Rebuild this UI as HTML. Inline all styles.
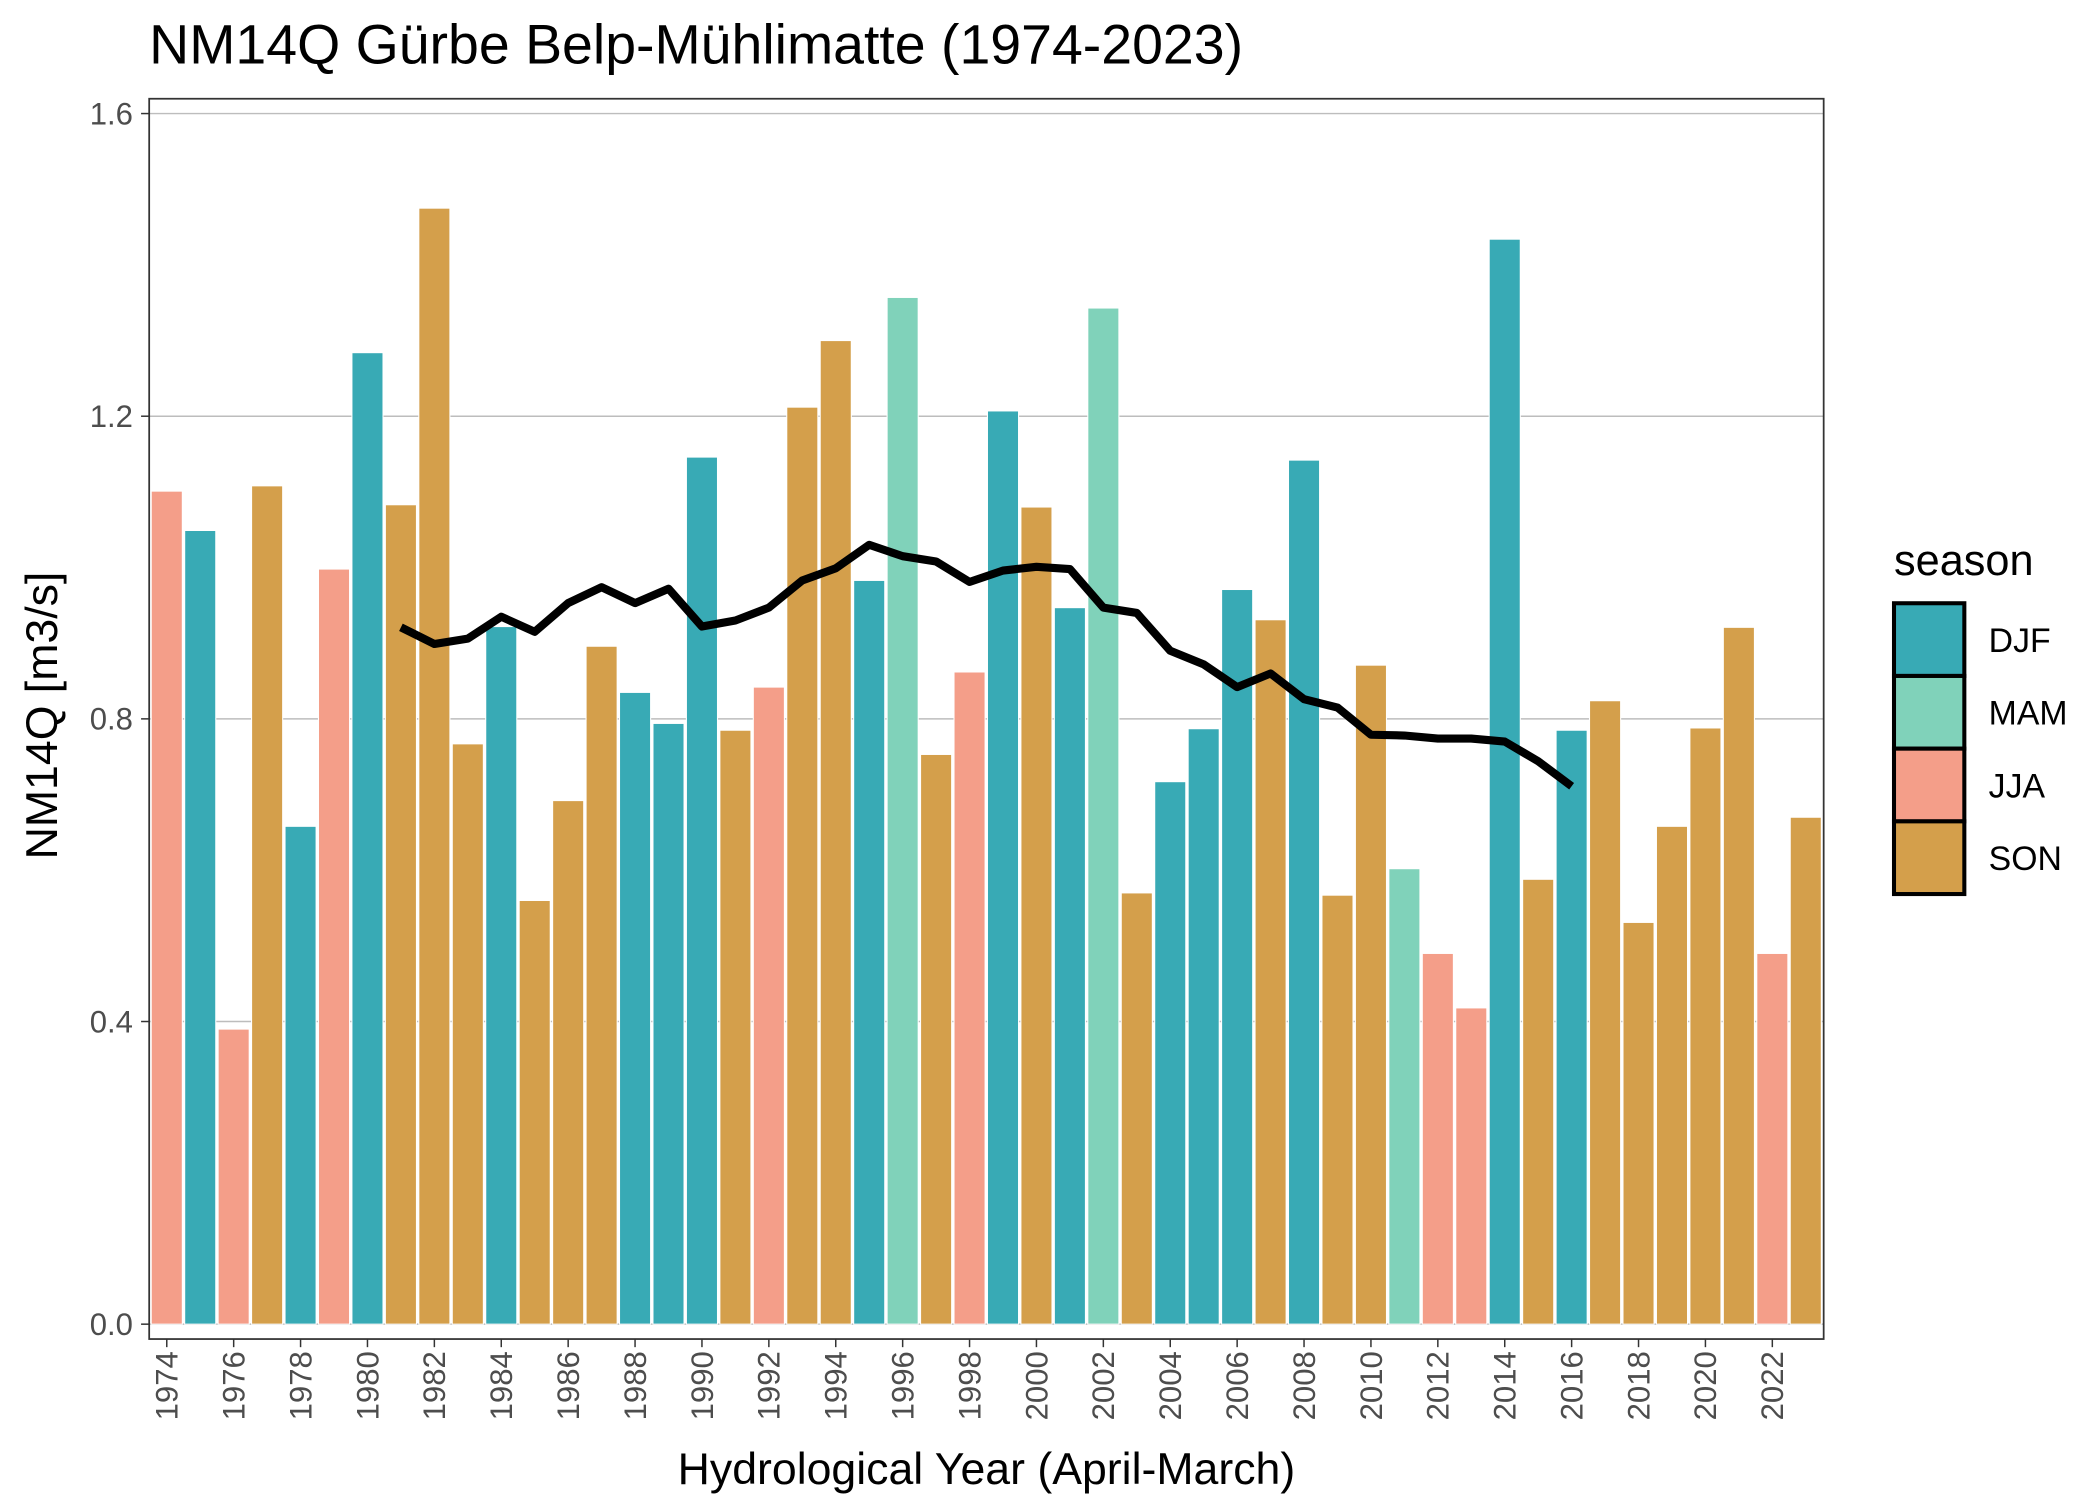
<!DOCTYPE html>
<html><head><meta charset="utf-8"><style>body{margin:0;background:#fff}svg{display:block}text{font-family:"Liberation Sans",sans-serif}</style></head>
<body>
<svg id="chart" width="2100" height="1500" viewBox="0 0 1552 1109" xmlns="http://www.w3.org/2000/svg">
<rect width="1552" height="1109" fill="#fff"/>
<text x="110" y="47" font-size="41" fill="#000">NM14Q Gürbe Belp-Mühlimatte (1974-2023)</text>
<g id="grid"></g><g id="bars"></g><g id="line"></g>
<rect x="110" y="73" width="1238" height="917" fill="none" stroke="#333" stroke-width="1.3"/>
<g id="axes"></g>
<text x="729" y="1097" font-size="33" text-anchor="middle">Hydrological Year (April-March)</text>
<text transform="translate(42,529) rotate(-90)" font-size="33" text-anchor="middle">NM14Q [m3/s]</text>
<g id="legend"></g>
</svg>
<script>
const years=[];for(let y=1974;y<=2023;y++)years.push(y);
const values=[1.101,1.049,0.39,1.108,0.658,0.998,1.284,1.083,1.475,0.767,0.922,0.56,0.692,0.896,0.835,0.794,1.146,0.785,0.842,1.212,1.30,0.983,1.357,0.753,0.862,1.207,1.08,0.947,1.343,0.57,0.717,0.787,0.971,0.931,1.142,0.567,0.871,0.602,0.49,0.418,1.434,0.588,0.785,0.824,0.531,0.658,0.788,0.921,0.49,0.67];
const seasons=["JJA","DJF","JJA","SON","DJF","JJA","DJF","SON","SON","SON","DJF","SON","SON","SON","DJF","DJF","DJF","SON","JJA","SON","SON","DJF","MAM","SON","JJA","DJF","SON","DJF","MAM","SON","DJF","DJF","DJF","SON","DJF","SON","SON","MAM","JJA","JJA","DJF","SON","DJF","SON","SON","SON","SON","SON","JJA","SON"];
const maYears=[];for(let y=1981;y<=2016;y++)maYears.push(y);
const maValues=[0.921,0.899,0.906,0.935,0.915,0.953,0.974,0.953,0.972,0.922,0.93,0.947,0.983,0.999,1.03,1.015,1.008,0.981,0.996,1.001,0.998,0.947,0.94,0.89,0.872,0.842,0.86,0.826,0.815,0.779,0.778,0.774,0.774,0.77,0.744,0.711];
const yTicks=[0,0.4,0.8,1.2,1.6];const yTickLabels=["0.0","0.4","0.8","1.2","1.6"];
const legendKeys=["DJF","MAM","JJA","SON"];
const colors={DJF:"#38AAB5",MAM:"#80D2BA",JJA:"#F49E89",SON:"#D49F4B"};
const NS="http://www.w3.org/2000/svg";
const X=y=>123+(y-1974)*24.73;const Y=v=>979-v*559.4;
function mk(t,a,p){const e=document.createElementNS(NS,t);for(const k in a)e.setAttribute(k,a[k]);document.getElementById(p).appendChild(e);return e;}
yTicks.forEach((v,i)=>{
 const g=mk("line",{x1:110,x2:1348,y1:Y(v),y2:Y(v),stroke:"#bdbdbd","stroke-width":1.1},"grid");
 
 
 const t=mk("line",{x1:104,x2:110,y1:Y(v),y2:Y(v),stroke:"#333","stroke-width":1.1},"axes");
 
 
 const l=mk("text",{x:98,y:Y(v)+8,"font-size":23,"text-anchor":"end",fill:"#4d4d4d"},"axes");l.textContent=yTickLabels[i];
 
 
});
years.forEach((y,i)=>{
 const b=mk("rect",{x:X(y)-11.5,y:Y(values[i]),width:23,height:Y(0)-Y(values[i]),fill:colors[seasons[i]],stroke:"#fff","stroke-width":0.8},"bars");
 
 
 if((y-1974)%2===0){
  const t=mk("line",{x1:X(y),x2:X(y),y1:990,y2:996,stroke:"#333","stroke-width":1.1},"axes");
  
  
  const l=mk("text",{transform:`translate(${X(y)+8},999) rotate(-90)`,"font-size":23,"text-anchor":"end",fill:"#4d4d4d"},"axes");l.textContent=y;
  
  
 }
});
const p=mk("polyline",{points:maYears.map((y,i)=>X(y)+","+Y(maValues[i])).join(" "),fill:"none",stroke:"#000","stroke-width":6,"stroke-linejoin":"round"},"line");


const lt=mk("text",{x:1400,y:425,"font-size":32},"legend");lt.textContent="season";


legendKeys.forEach((k,i)=>{
 const r=mk("rect",{x:1400,y:446+i*53.75,width:52,height:53.75,fill:colors[k],stroke:"#000","stroke-width":3},"legend");
 
 
 const t=mk("text",{x:1470,y:446+i*53.75+36,"font-size":25},"legend");t.textContent=k;
 
 
});
</script>
</body></html>
